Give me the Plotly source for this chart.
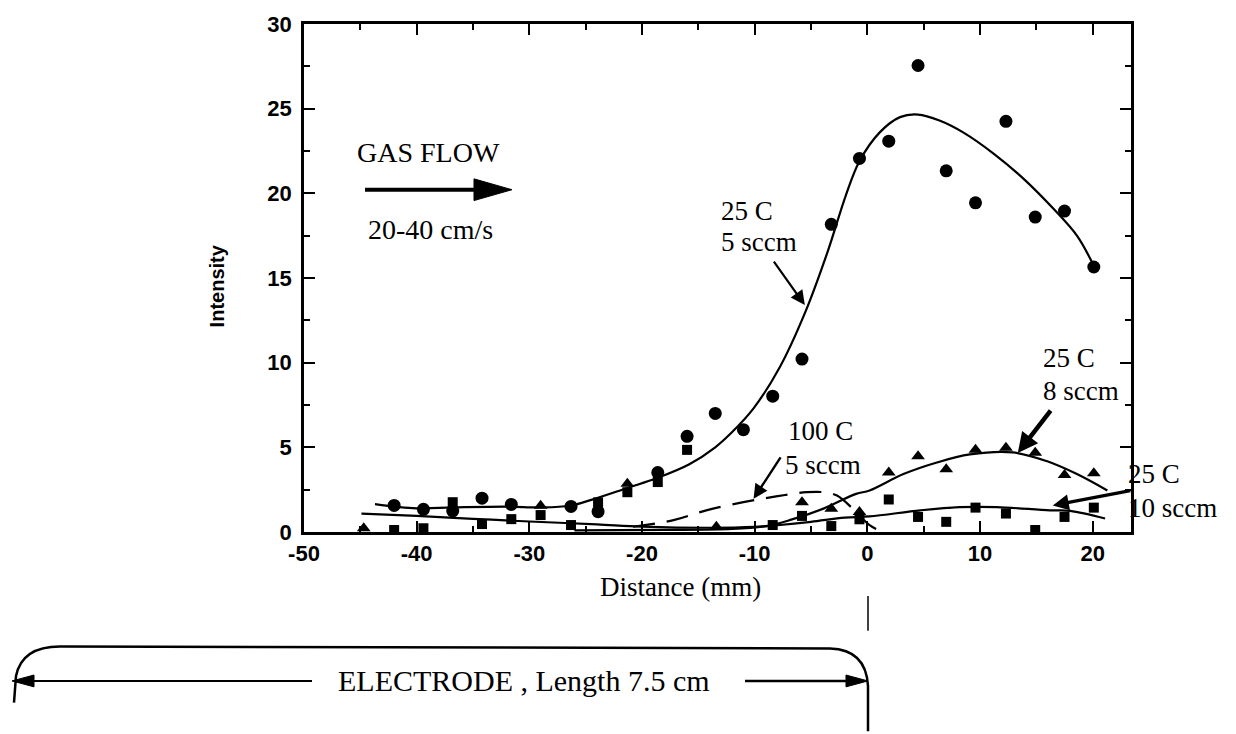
import plotly.graph_objects as go

# ---------------- data ----------------
# 25 C, 5 sccm  (circles)
circ_x = [-42.0, -39.4, -36.8, -34.2, -31.6, -26.3, -23.9, -18.6, -16.0, -13.5, -11.0,
          -8.4, -5.8, -3.2, -0.7, 1.9, 4.5, 7.0, 9.6, 12.3, 14.9, 17.5, 20.1]
circ_y = [1.57, 1.34, 1.24, 2.00, 1.63, 1.51, 1.20, 3.51, 5.65, 7.00, 6.04,
          8.02, 10.21, 18.17, 22.06, 23.08, 27.55, 21.33, 19.44, 24.25, 18.60, 18.95, 15.65]

# 25 C, 8 sccm  (triangles)
tri_x = [-44.7, -29.0, -21.3, -13.4, -5.8, -3.2, -0.7, 1.9, 4.5, 7.0, 9.6, 12.3, 14.9, 17.5, 20.1]
tri_y = [0.22, 1.55, 2.85, 0.31, 1.75, 1.38, 1.18, 3.51, 4.48, 3.71, 4.85, 4.97, 4.68, 3.37, 3.47]

# 25 C, 10 sccm  (squares)
sq_x = [-42.0, -39.4, -36.8, -34.2, -31.6, -29.0, -26.3, -23.9, -21.3, -18.6, -16.0,
        -8.4, -5.8, -3.2, -0.7, 1.9, 4.5, 7.0, 9.6, 12.3, 14.9, 17.5, 20.1]
sq_y = [0.12, 0.22, 1.76, 0.47, 0.76, 1.00, 0.41, 1.75, 2.35, 2.95, 4.85,
        0.41, 0.95, 0.35, 0.75, 1.92, 0.89, 0.60, 1.44, 1.09, 0.12, 0.89, 1.44]

# fitted curves
fit5_x = [-43.7, -40.0, -36.8, -32.0, -29.0, -26.4, -24.5, -21.3, -18.6, -15.8, -13.5, -12.0,
          -10.1, -7.8, -5.5, -3.5, -1.9, -0.7, 1.1, 2.9, 4.5, 6.4, 8.5, 11.2, 13.8, 16.5, 18.6, 20.0]
fit5_y = [1.65, 1.40, 1.45, 1.50, 1.45, 1.55, 1.90, 2.60, 3.20, 4.00, 5.00, 5.90,
          7.30, 9.70, 13.0, 16.6, 19.9, 21.9, 23.6, 24.5, 24.65, 24.3, 23.6, 22.35, 20.9, 19.1, 17.5, 15.85]

fit8_x = [-26.0, -18.0, -12.0, -9.0, -6.9, -3.9, -1.0, 0.2, 3.2, 6.1, 9.1, 12.9, 15.9, 18.6, 21.3]
fit8_y = [0.10, 0.12, 0.18, 0.35, 0.70, 1.38, 2.25, 2.45, 3.42, 4.09, 4.58, 4.70, 4.19, 3.42, 2.45]

fit10_x = [-44.9, -40.0, -35.0, -30.0, -24.0, -20.0, -14.0, -10.0, -8.0, -5.0, -2.0, 0.2,
           4.7, 8.2, 11.5, 16.2, 18.0, 21.1]
fit10_y = [1.09, 0.95, 0.78, 0.62, 0.45, 0.32, 0.25, 0.30, 0.40, 0.60, 0.85, 0.92,
           1.28, 1.47, 1.47, 1.28, 1.25, 0.80]

fit100_x = [-20.8, -17.2, -14.3, -11.0, -8.1, -5.4, -3.9, -2.7, -1.3, 0.2, 1.3]
fit100_y = [0.31, 0.70, 1.28, 1.76, 2.10, 2.35, 2.35, 2.15, 1.38, 0.40, 0.02]

x_ticks = [-50, -40, -30, -20, -10, 0, 10, 20]
y_ticks = [0, 5, 10, 15, 20, 25, 30]

# ---------------- geometry helpers ----------------
L, R, T, B = 304, 1131, 17, 532
W, H = 1236, 734


def px(x):
    return (x - L) / (R - L)


def py(y):
    return (B - y) / (B - T)


SERIF = "Liberation Serif, Times New Roman, serif"
SANS = "Liberation Sans, Arial, sans-serif"

fig = go.Figure()

line_style = dict(color="black", width=2.2, shape="spline", smoothing=1.0)
fig.add_trace(go.Scatter(x=fit5_x, y=fit5_y, mode="lines", line=line_style, hoverinfo="skip"))
fig.add_trace(go.Scatter(x=fit8_x, y=fit8_y, mode="lines", line=line_style, hoverinfo="skip"))
fig.add_trace(go.Scatter(x=fit10_x, y=fit10_y, mode="lines", line=line_style, hoverinfo="skip"))
fig.add_trace(go.Scatter(x=fit100_x, y=fit100_y, mode="lines",
                         line=dict(color="black", width=2.2, shape="spline", dash="22px,12px"),
                         hoverinfo="skip"))

fig.add_trace(go.Scatter(x=circ_x, y=circ_y, mode="markers",
                         marker=dict(symbol="circle", size=13, color="black")))
fig.add_trace(go.Scatter(x=tri_x, y=tri_y, mode="markers",
                         marker=dict(symbol="triangle-up", size=12, color="black")))
fig.add_trace(go.Scatter(x=sq_x, y=sq_y, mode="markers",
                         marker=dict(symbol="square", size=10, color="black")))

axis_common = dict(
    showline=True, linecolor="black", linewidth=2.5, mirror="allticks",
    ticks="inside", ticklen=11, tickwidth=1.8, tickcolor="black",
    showgrid=False, zeroline=False,
    tickfont=dict(family=SANS, size=22, color="black", weight="bold"),
)

fig.update_xaxes(range=[-50, 23.4], tickvals=x_ticks, ticktext=[str(v) for v in x_ticks],
                 minor=dict(dtick=5, tick0=0, ticks="inside", ticklen=6, tickcolor="black", tickwidth=1.5),
                 ticklabelstandoff=0, **axis_common)
fig.update_yaxes(range=[0, 30], tickvals=y_ticks, ticktext=[str(v) for v in y_ticks],
                 minor=dict(dtick=2.5, tick0=0, ticks="inside", ticklen=6, tickcolor="black", tickwidth=1.5),
                 ticklabelstandoff=5, **axis_common)

ann = []


def text(s, x, y, size=27, anchor="left", family=SERIF, weight="normal", angle=0):
    ann.append(dict(text=s, xref="paper", yref="paper", x=px(x), y=py(y),
                    xanchor=anchor, yanchor="middle", showarrow=False, textangle=angle,
                    font=dict(family=family, size=size, color="black", weight=weight)))


text("GAS FLOW", 355, 147, size=28)
text("20-40 cm/s", 366, 225, size=28)
text("25 C", 719, 207)
text("5 sccm", 719, 238)
text("100 C", 786, 430)
text("5 sccm", 783, 464)
text("25 C", 1041, 356)
text("8 sccm", 1041, 389)
text("25 C", 1126, 473)
text("10 sccm", 1126, 508)
text("Distance (mm)", 680, 588, size=27, anchor="center")
text("ELECTRODE , Length 7.5 cm", 524, 683, size=30, anchor="center")
text("Intensity", 217, 283, size=20, anchor="center", family=SANS, weight="bold", angle=-90)


def arrow(tipx, tipy, ax, ay, width=2, size=1.2):
    ann.append(dict(x=tipx, y=tipy, xref="x", yref="y", ax=ax, ay=ay, axref="pixel", ayref="pixel",
                    text="", showarrow=True, arrowhead=2, arrowsize=size, arrowwidth=width,
                    arrowcolor="black"))


arrow(-5.55, 13.4, -32, -45, width=2.2, size=1.3)
arrow(-10.1, 1.96, 28, -43, width=2.4, size=1.2)
arrow(13.35, 4.66, 34, -44, width=4.5, size=0.9)
arrow(16.46, 1.57, 79, -15, width=3.2, size=1.0)

fig.update_layout(annotations=ann)

shapes = []


def line(x0, y0, x1, y1, w=2):
    shapes.append(dict(type="line", xref="paper", yref="paper", x0=px(x0), y0=py(y0),
                       x1=px(x1), y1=py(y1), line=dict(color="black", width=w), layer="above"))


def poly(pts, closed=True, w=2, fill=True):
    d = "M " + " L ".join(f"{px(a):.5f},{py(b):.5f}" for a, b in pts)
    if closed:
        d += " Z"
    shapes.append(dict(type="path", xref="paper", yref="paper", path=d,
                       line=dict(color="black", width=w),
                       fillcolor="black" if fill else "rgba(0,0,0,0)", layer="above"))


# gas flow arrow
line(365, 185, 480, 185, w=4)
poly([(474, 174), (512, 185), (474, 196)], w=1)

# small vertical mark at x = 0 below the axis
line(868, 597, 868, 632, w=1.5)


# electrode bracket (rounded corners)
def qpath(cmds):
    out = []
    for c in cmds:
        if c[0] in "ML":
            out.append(f"{c[0]} {px(c[1]):.5f},{py(c[2]):.5f}")
        elif c[0] == "Q":
            out.append(f"Q {px(c[1]):.5f},{py(c[2]):.5f} {px(c[3]):.5f},{py(c[4]):.5f}")
    return " ".join(out)


shapes.append(dict(type="path", xref="paper", yref="paper",
                   path=qpath([("M", 14, 705), ("L", 16, 678), ("Q", 22, 648, 60, 648),
                               ("L", 830, 650), ("Q", 866, 651, 868, 688), ("L", 868, 734)]),
                   line=dict(color="black", width=2.5), fillcolor="rgba(0,0,0,0)", layer="above"))

# electrode dimension arrows
line(32, 683, 312, 683, w=2)
poly([(12, 683), (34, 677), (34, 689)], w=1)
line(745, 683, 850, 683, w=2.5)
poly([(868, 683), (846, 677), (846, 689)], w=1)

fig.update_layout(shapes=shapes)

fig.update_layout(width=W, height=H, margin=dict(l=L, r=W - R, t=T, b=H - B),
                  plot_bgcolor="white", paper_bgcolor="white", showlegend=False)

fig.write_html("out.html")
